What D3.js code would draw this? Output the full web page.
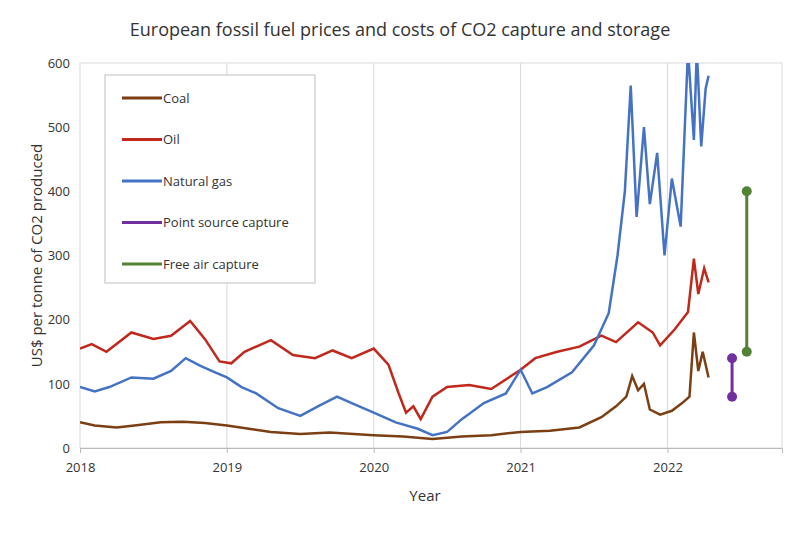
<!DOCTYPE html>
<html><head><meta charset="utf-8">
<script src="https://cdn.jsdelivr.net/npm/d3@7"></script>
<style>body{margin:0;background:#fff;font-family:"Open Sans",Arial,sans-serif}</style>
</head><body><div id="chart"></div>
<script>
const years = [2018, 2019, 2020, 2021, 2022];
const yTicks = [0, 100, 200, 300, 400, 500, 600];
const coal = [[2018,40],[2018.1,35],[2018.25,32],[2018.4,36],[2018.55,40],[2018.7,41],[2018.85,39],[2019,35],[2019.15,30],[2019.3,25],[2019.5,22],[2019.7,24],[2020,20],[2020.2,18],[2020.4,14],[2020.6,18],[2020.8,20],[2021,25],[2021.2,27],[2021.4,32],[2021.55,48],[2021.65,65],[2021.72,80],[2021.76,112],[2021.8,90],[2021.84,100],[2021.88,60],[2021.95,52],[2022.03,58],[2022.1,70],[2022.15,80],[2022.18,180],[2022.21,120],[2022.24,150],[2022.28,110]];
const oil = [[2018,155],[2018.08,162],[2018.18,150],[2018.35,180],[2018.5,170],[2018.62,175],[2018.75,198],[2018.85,170],[2018.95,135],[2019.03,132],[2019.12,150],[2019.3,168],[2019.45,145],[2019.6,140],[2019.72,152],[2019.85,140],[2020,155],[2020.1,130],[2020.17,85],[2020.22,55],[2020.27,65],[2020.32,45],[2020.4,80],[2020.5,95],[2020.65,98],[2020.8,92],[2021,122],[2021.1,140],[2021.25,150],[2021.4,158],[2021.55,175],[2021.65,165],[2021.8,196],[2021.9,180],[2021.95,160],[2022.05,185],[2022.14,212],[2022.18,295],[2022.21,240],[2022.25,280],[2022.28,258]];
const gas = [[2018,95],[2018.1,88],[2018.2,95],[2018.35,110],[2018.5,108],[2018.62,120],[2018.72,140],[2018.82,128],[2018.92,118],[2019,110],[2019.1,95],[2019.2,85],[2019.35,62],[2019.5,50],[2019.62,65],[2019.75,80],[2019.85,70],[2020,55],[2020.15,40],[2020.3,30],[2020.4,20],[2020.5,25],[2020.6,45],[2020.75,70],[2020.9,85],[2021,122],[2021.08,85],[2021.18,95],[2021.35,118],[2021.5,160],[2021.6,210],[2021.66,300],[2021.71,400],[2021.75,565],[2021.79,360],[2021.84,500],[2021.88,380],[2021.93,460],[2021.98,300],[2022.03,420],[2022.09,345],[2022.14,620],[2022.18,480],[2022.2,620],[2022.23,470],[2022.26,560],[2022.28,580]];
const pointCapture = [2022.44, 80, 140];
const airCapture = [2022.54, 150, 400];

const W = 800, H = 533, m = {l: 80, r: 18, t: 63, b: 85};
const svg = d3.select("#chart").append("svg").attr("width", W).attr("height", H);
const x = d3.scaleLinear().domain([2018, 2022.78]).range([m.l, W - m.r]);
const y = d3.scaleLinear().domain([0, 600]).range([H - m.b, m.t]);

svg.append("defs").append("clipPath").attr("id", "clip").append("rect")
  .attr("x", m.l).attr("y", m.t).attr("width", W - m.r - m.l).attr("height", H - m.b - m.t);

svg.append("g").selectAll("line").data(years.slice(1)).join("line")
  .attr("x1", d => x(d)).attr("x2", d => x(d)).attr("y1", m.t).attr("y2", H - m.b)
  .attr("stroke", "#d9d9d9");
svg.append("rect").attr("x", m.l).attr("y", m.t).attr("width", W - m.r - m.l).attr("height", H - m.b - m.t)
  .attr("fill", "none").attr("stroke", "#d9d9d9");

const xa = svg.append("g").attr("transform", `translate(0,${H - m.b})`)
  .call(d3.axisBottom(x).tickValues(years).tickFormat(d3.format("d")).tickSize(5).tickPadding(10));
const ya = svg.append("g").attr("transform", `translate(${m.l},0)`)
  .call(d3.axisLeft(y).tickValues(yTicks).tickSize(0).tickPadding(10));
[xa, ya].forEach(a => { a.selectAll("text").attr("font-size", 13).attr("fill", "#333").attr("font-family", "Open Sans"); a.select(".domain").attr("stroke", "#bbb"); a.selectAll(".tick line").attr("stroke", "#bbb"); });
ya.select(".domain").remove();

const line = d3.line().x(d => x(d[0])).y(d => y(d[1]));
const series = [[coal, "#7b3f13"], [oil, "#c0281c"], [gas, "#4472c4"]];
series.forEach(([d, c]) => svg.append("path").datum(d).attr("d", line).attr("fill", "none")
  .attr("stroke", c).attr("stroke-width", 2.5).attr("clip-path", "url(#clip)"));

[[pointCapture, "#7030a0"], [airCapture, "#538135"]].forEach(([d, c]) => {
  svg.append("line").attr("x1", x(d[0])).attr("x2", x(d[0])).attr("y1", y(d[1])).attr("y2", y(d[2]))
    .attr("stroke", c).attr("stroke-width", 3);
  svg.selectAll(null).data([d[1], d[2]]).join("circle").attr("cx", x(d[0])).attr("cy", v => y(v))
    .attr("r", 5).attr("fill", c);
});

const legend = [["Coal", "#7b3f13"], ["Oil", "#c0281c"], ["Natural gas", "#4472c4"], ["Point source capture", "#7030a0"], ["Free air capture", "#538135"]];
svg.append("rect").attr("x", 105).attr("y", 75).attr("width", 210).attr("height", 208)
  .attr("fill", "#fff").attr("stroke", "#bfbfbf");
const lg = svg.append("g").selectAll("g").data(legend).join("g")
  .attr("transform", (d, i) => `translate(122,${98 + i * 41.5})`);
lg.append("line").attr("x1", 0).attr("x2", 40).attr("stroke", d => d[1]).attr("stroke-width", 3);
lg.append("text").attr("x", 41).attr("dy", "0.35em").attr("font-size", 13).attr("fill", "#333").text(d => d[0]);

svg.append("text").attr("x", 400).attr("y", 36).attr("text-anchor", "middle").attr("font-size", 18)
  .attr("fill", "#333").text("European fossil fuel prices and costs of CO2 capture and storage");
svg.append("text").attr("x", 425).attr("y", 501).attr("text-anchor", "middle").attr("font-size", 15)
  .attr("fill", "#333").text("Year");
svg.append("text").attr("transform", `translate(42,${(m.t + H - m.b) / 2}) rotate(-90)`).attr("text-anchor", "middle")
  .attr("font-size", 15).attr("fill", "#333").text("US$ per tonne of CO2 produced");
</script></body></html>
